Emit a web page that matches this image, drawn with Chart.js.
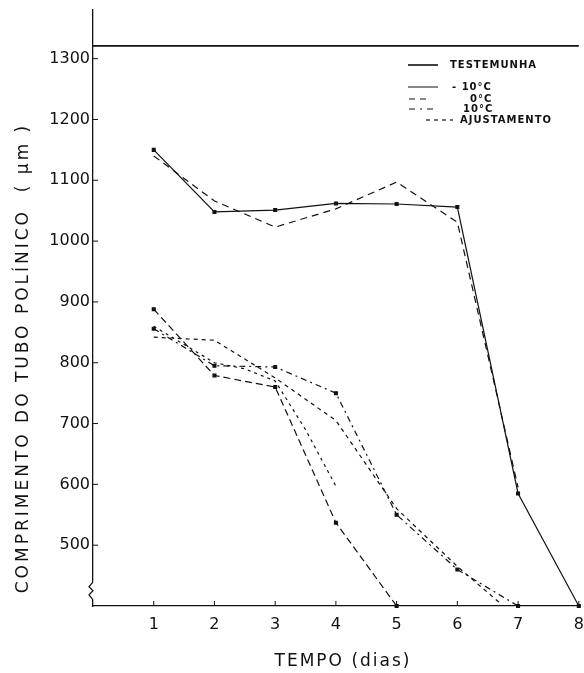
<!DOCTYPE html>
<html lang="pt">
<head>
<meta charset="UTF-8">
<title>Comprimento do tubo polínico</title>
<script src="https://cdn.jsdelivr.net/npm/chart.js"></script>
<style>
    body { margin: 0; background: #fff; }
    canvas { display: block; }
</style>
</head>
<body>
<canvas id="grafico" width="584" height="673"></canvas>
<script>
// dados (dias, µm)
const testemunha = 1321;
const diasMenos10 = [1, 2, 3, 4, 5, 6, 7, 8];
const menos10 = [1150, 1048, 1051, 1062, 1061, 1056, 585, 400];
const diasAjusteMenos10 = [1, 2, 3, 4, 5, 6, 7];
const ajusteMenos10 = [1140, 1066, 1023, 1053, 1097, 1031, 595];
const diasZero = [1, 2, 3, 4, 5];
const zero = [888, 779, 760, 537, 400];
const diasAjusteZero = [1, 1.5, 2, 2.5, 3, 3.5, 4];
const ajusteZero = [860, 830, 800, 790, 770, 690, 597];
const diasDez = [1, 2, 3, 4, 5, 6, 7];
const dez = [856, 795, 793, 750, 550, 460, 400];
const diasAjusteDez = [1, 2, 3, 4, 5, 6, 6.7];
const ajusteDez = [842, 837, 775, 705, 560, 465, 405];
const yTicks = [500, 600, 700, 800, 900, 1000, 1100, 1200, 1300];
const xTicks = [1, 2, 3, 4, 5, 6, 7, 8];

const fonte = '"DejaVu Sans", sans-serif';

function pares(xs, ys) {
    return xs.map((x, i) => ({ x: x, y: ys[i] }));
}

function serie(label, xs, ys, dash, pontos) {
    return {
        label: label,
        data: pares(xs, ys),
        borderColor: '#111',
        backgroundColor: '#111',
        borderWidth: 1.2,
        borderDash: dash,
        pointStyle: 'rect',
        pointRadius: pontos ? 2 : 0,
        tension: 0,
        clip: false
    };
}

// eixo com quebra, marcas internas, títulos e legenda
const extras = {
    id: 'extras',
    afterDraw(chart) {
        const ctx = chart.ctx;
        const xs = chart.scales.x, ys = chart.scales.y;
        const a = chart.chartArea;
        ctx.save();
        ctx.strokeStyle = '#111';
        ctx.lineWidth = 1;
        yTicks.forEach(v => {
            const p = ys.getPixelForValue(v);
            ctx.beginPath(); ctx.moveTo(a.left, p); ctx.lineTo(a.left + 5, p); ctx.stroke();
        });
        xTicks.forEach(v => {
            const p = xs.getPixelForValue(v);
            ctx.beginPath(); ctx.moveTo(p, a.bottom); ctx.lineTo(p, a.bottom - 5); ctx.stroke();
        });
        // quebra do eixo
        const yb = ys.getPixelForValue(425);
        ctx.fillStyle = '#fff';
        ctx.fillRect(a.left - 1, yb - 9, 3, 18);
        ctx.lineWidth = 1.2;
        ctx.beginPath();
        ctx.moveTo(a.left, yb - 9);
        ctx.lineTo(a.left - 4, yb - 4);
        ctx.lineTo(a.left, yb);
        ctx.lineTo(a.left - 4, yb + 4);
        ctx.lineTo(a.left, yb + 9);
        ctx.stroke();

        // títulos
        ctx.fillStyle = '#111';
        ctx.textAlign = 'center';
        ctx.textBaseline = 'middle';
        ctx.font = '17px ' + fonte;
        ctx.letterSpacing = '2px';
        ctx.fillText('TEMPO (dias)', 343, 662);
        ctx.save();
        ctx.translate(24, 358);
        ctx.rotate(-Math.PI / 2);
        ctx.font = '17px ' + fonte;
        ctx.letterSpacing = '3px';
        ctx.fillText('COMPRIMENTO DO TUBO POLÍNICO  ( µm )', 0, 0);
        ctx.restore();

        // legenda
        ctx.letterSpacing = '1px';
        ctx.font = 'bold 10px ' + fonte;
        ctx.textAlign = 'left';
        const itens = [
            { t: 'TESTEMUNHA', y: 65, x: 450, d: [], w: 1.6, x0: 408, x1: 438 },
            { t: '- 10°C', y: 87, x: 452, d: [], w: 1, x0: 408, x1: 438 },
            { t: '0°C', y: 99, x: 470, d: [6, 5], w: 1.2, x0: 409, x1: 428 },
            { t: '10°C', y: 109, x: 463, d: [6, 5, 2, 5], w: 1.2, x0: 409, x1: 438 },
            { t: 'AJUSTAMENTO', y: 120, x: 460, d: [4, 4], w: 1.2, x0: 426, x1: 453 }
        ];
        itens.forEach(it => {
            ctx.lineWidth = it.w;
            ctx.setLineDash(it.d);
            ctx.beginPath(); ctx.moveTo(it.x0, it.y); ctx.lineTo(it.x1, it.y); ctx.stroke();
            ctx.setLineDash([]);
            ctx.fillText(it.t, it.x, it.y);
        });
        ctx.restore();
    }
};

new Chart(document.getElementById('grafico'), {
    type: 'line',
    data: {
        datasets: [
            {
                label: 'TESTEMUNHA',
                data: pares([0, 8], [testemunha, testemunha]),
                borderColor: '#111',
                borderWidth: 1.6,
                pointRadius: 0,
                clip: false
            },
            serie('-10°C', diasMenos10, menos10, [], true),
            serie('AJUSTAMENTO -10°C', diasAjusteMenos10, ajusteMenos10, [7, 5], false),
            serie('0°C', diasZero, zero, [7, 4], true),
            serie('AJUSTAMENTO 0°C', diasAjusteZero, ajusteZero, [3, 4], false),
            serie('10°C', diasDez, dez, [6, 4, 2, 4], true),
            serie('AJUSTAMENTO 10°C', diasAjusteDez, ajusteDez, [4, 4], false)
        ]
    },
    options: {
        responsive: false,
        animation: false,
        layout: { padding: { top: 10, right: 1, left: 0, bottom: 0 } },
        plugins: { legend: { display: false }, tooltip: { enabled: false } },
        scales: {
            x: {
                type: 'linear',
                min: 0,
                max: 8,
                grid: { display: false, drawTicks: false },
                border: { display: true, color: '#111', width: 1.3 },
                ticks: {
                    stepSize: 1,
                    padding: 9,
                    color: '#111',
                    font: { family: fonte, size: 16 },
                    maxRotation: 0,
                    callback: v => xTicks.includes(v) ? String(v) : ''
                },
                afterFit(s) { s.height = 673 - 606; s.paddingLeft = 0; s.paddingRight = 0; }
            },
            y: {
                min: 400,
                max: 1380,
                grid: { display: false, drawTicks: false },
                border: { display: true, color: '#111', width: 1.3 },
                ticks: {
                    stepSize: 100,
                    padding: 3,
                    color: '#111',
                    font: { family: fonte, size: 16 },
                    callback: v => yTicks.includes(v) ? String(v) : ''
                },
                afterFit(s) { s.width = 93; s.paddingTop = 0; s.paddingBottom = 0; }
            }
        }
    },
    plugins: [extras]
});
</script>
</body>
</html>
